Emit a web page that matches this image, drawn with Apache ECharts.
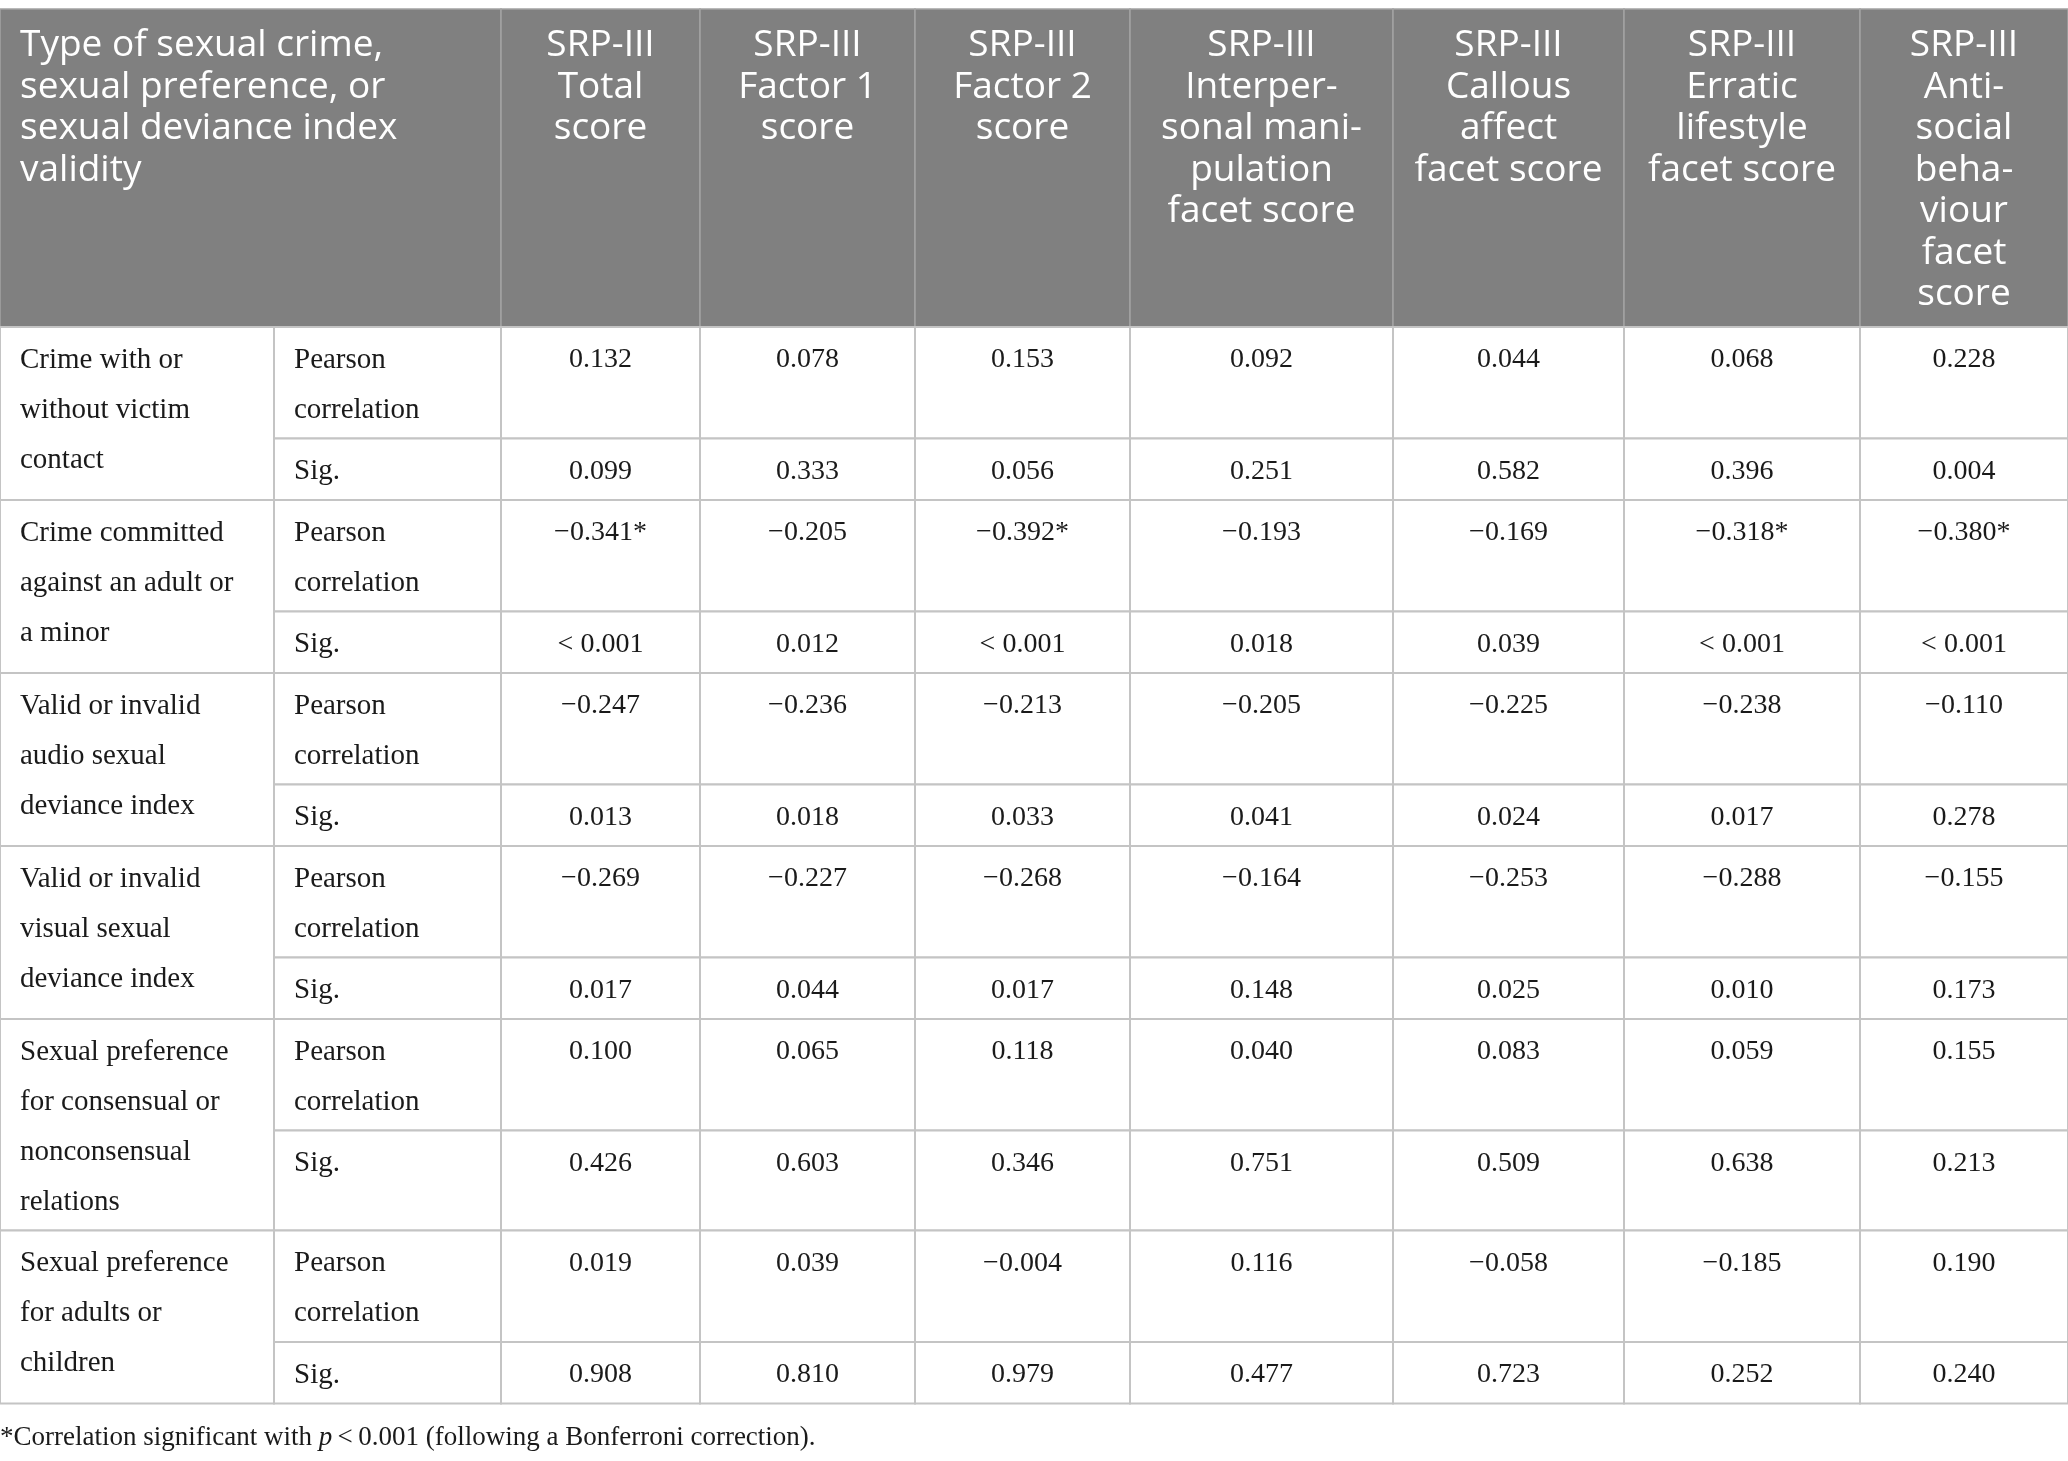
<!DOCTYPE html>
<html>
<head>
<meta charset="utf-8">
<script src="https://cdn.jsdelivr.net/npm/echarts@6/dist/echarts.min.js"></script>
<style>
  html, body { margin: 0; padding: 0; background: #fff; }
  #chart { width: 2068px; height: 1461px; }
</style>
</head>
<body>
<div id="chart"></div>
<script>
// table content
const cornerHeader = 'Type of sexual crime,\nsexual preference, or\nsexual deviance index\nvalidity'
const scoreHeaders = [
  'SRP-III\nTotal\nscore',
  'SRP-III\nFactor 1\nscore',
  'SRP-III\nFactor 2\nscore',
  'SRP-III\nInterper-\nsonal mani-\npulation\nfacet score',
  'SRP-III\nCallous\naffect\nfacet score',
  'SRP-III\nErratic\nlifestyle\nfacet score',
  'SRP-III\nAnti-\nsocial\nbeha-\nviour\nfacet\nscore'
]
const crimeTypes = [
  'Crime with or\nwithout victim\ncontact',
  'Crime committed\nagainst an adult or\na minor',
  'Valid or invalid\naudio sexual\ndeviance index',
  'Valid or invalid\nvisual sexual\ndeviance index',
  'Sexual preference\nfor consensual or\nnonconsensual\nrelations',
  'Sexual preference\nfor adults or\nchildren'
]
const statLabels = ['Pearson\ncorrelation', 'Sig.']
const pearsonR = [
  [0.132, 0.078, 0.153, 0.092, 0.044, 0.068, 0.228],
  [-0.341, -0.205, -0.392, -0.193, -0.169, -0.318, -0.380],
  [-0.247, -0.236, -0.213, -0.205, -0.225, -0.238, -0.110],
  [-0.269, -0.227, -0.268, -0.164, -0.253, -0.288, -0.155],
  [0.100, 0.065, 0.118, 0.040, 0.083, 0.059, 0.155],
  [0.019, 0.039, -0.004, 0.116, -0.058, -0.185, 0.190]
]
const sigValues = [
  ['0.099', '0.333', '0.056', '0.251', '0.582', '0.396', '0.004'],
  ['< 0.001', '0.012', '< 0.001', '0.018', '0.039', '< 0.001', '< 0.001'],
  ['0.013', '0.018', '0.033', '0.041', '0.024', '0.017', '0.278'],
  ['0.017', '0.044', '0.017', '0.148', '0.025', '0.010', '0.173'],
  ['0.426', '0.603', '0.346', '0.751', '0.509', '0.638', '0.213'],
  ['0.908', '0.810', '0.979', '0.477', '0.723', '0.252', '0.240']
]
const footnoteParts = ['*Correlation significant with ', 'p', '\u2009<\u20090.001 (following a Bonferroni correction).']

// layout (pixels of the 2068 x 1461 canvas)
const W = 2068, H = 1461
const colWidths = [274, 227, 199, 215, 215, 263, 231, 236, 208]
const TABLE_TOP = 9
const HEADER_H = 318
const HEADER_LH = 41.5
const BODY_LH = 50
const ROW_PAD = 11.5

const SANS = '"Open Sans", "Noto Sans", sans-serif'
const SERIF = '"Liberation Serif", "Times New Roman", serif'

const colEdges = [0]
colWidths.forEach(w => colEdges.push(colEdges[colEdges.length - 1] + w))

const lines = s => s.split('\n').length
const fmtR = (v, sig) => (v < 0 ? '\u2212' : '') + Math.abs(v).toFixed(3) + (sig === '< 0.001' ? '*' : '')

// build cells: value = [x0, x1, y0, y1]
const cells = []
const cellInfo = []
function addCell(c0, c1, y0, y1, text, kind) {
  cells.push([colEdges[c0], colEdges[c1], y0, y1])
  cellInfo.push({ text, kind })
}

const headerBottom = TABLE_TOP + HEADER_H
addCell(0, 2, TABLE_TOP, headerBottom, cornerHeader, 'headLeft')
scoreHeaders.forEach((h, i) => addCell(i + 2, i + 3, TABLE_TOP, headerBottom, h, 'head'))

let y = headerBottom
crimeTypes.forEach((label, g) => {
  const rH = lines(statLabels[0]) * BODY_LH + ROW_PAD
  const sMin = lines(statLabels[1]) * BODY_LH + ROW_PAD
  const gH = Math.max(lines(label) * BODY_LH + ROW_PAD, rH + sMin)
  const yMid = y + rH, yEnd = y + gH
  addCell(0, 1, y, yEnd, label, 'label')
  addCell(1, 2, y, yMid, statLabels[0], 'label')
  addCell(1, 2, yMid, yEnd, statLabels[1], 'label')
  pearsonR[g].forEach((v, k) => addCell(k + 2, k + 3, y, yMid, fmtR(v, sigValues[g][k]), 'value'))
  sigValues[g].forEach((s, k) => addCell(k + 2, k + 3, yMid, yEnd, s, 'value'))
  y = yEnd
})
const tableBottom = y

function renderCell(params, api) {
  const p0 = api.coord([api.value(0), api.value(2)])
  const p1 = api.coord([api.value(1), api.value(3)])
  const info = cellInfo[params.dataIndex]
  const isHead = info.kind === 'head' || info.kind === 'headLeft'
  const rect = {
    type: 'rect',
    shape: { x: p0[0], y: p0[1], width: p1[0] - p0[0], height: p1[1] - p0[1] },
    style: {
      fill: isHead ? '#808080' : '#ffffff',
      stroke: isHead ? '#a3a3a3' : '#c4c4c4',
      lineWidth: isHead ? 1.5 : 2
    }
  }
  let tx, align
  if (info.kind === 'value' || info.kind === 'head') {
    tx = (p0[0] + p1[0]) / 2
    align = 'center'
  } else {
    tx = p0[0] + 20
    align = 'left'
  }
  const text = {
    type: 'text',
    z2: 10,
    style: {
      x: tx,
      y: p0[1] + (isHead ? 16 : 8),
      text: info.text,
      align,
      verticalAlign: 'top',
      fill: isHead ? '#ffffff' : '#1a1a1a',
      fontFamily: isHead ? SANS : SERIF,
      fontSize: isHead ? 37 : (info.kind === 'value' ? 28 : 29),
      fontWeight: 'normal',
      lineHeight: isHead ? HEADER_LH : BODY_LH
    }
  }
  return { type: 'group', children: [rect, text] }
}

const chart = echarts.init(document.getElementById('chart'), null, { renderer: 'canvas' })
chart.setOption({
  animation: false,
  backgroundColor: '#ffffff',
  title: {
    left: 0,
    top: tableBottom + 21,
    padding: 0,
    text: '{n|' + footnoteParts[0] + '}{i|' + footnoteParts[1] + '}{n|' + footnoteParts[2] + '}',
    textStyle: {
      fontWeight: 'normal',
      rich: {
        n: { fontFamily: SERIF, fontSize: 27, fontWeight: 'normal', color: '#1a1a1a' },
        i: { fontFamily: SERIF, fontSize: 27, fontWeight: 'normal', fontStyle: 'italic', color: '#1a1a1a' }
      }
    }
  },
  grid: { left: 0, right: 0, top: 0, bottom: 0 },
  xAxis: { type: 'value', min: 0, max: W, show: false },
  yAxis: { type: 'value', min: 0, max: H, inverse: true, show: false },
  series: [{
    type: 'custom',
    renderItem: renderCell,
    data: cells,
    clip: false,
    silent: true
  }]
})
</script>
</body>
</html>
